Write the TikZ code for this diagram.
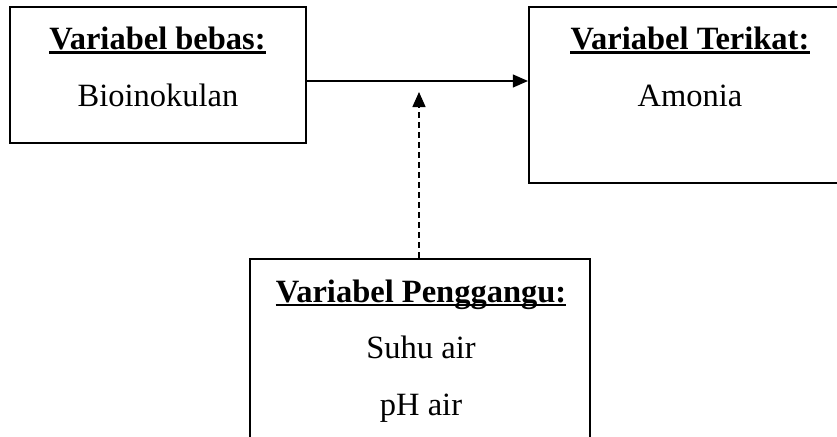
\documentclass[tikz,border=0pt]{standalone}
\usepackage{fontspec}
\setmainfont{Liberation Serif}
\usetikzlibrary{arrows.meta}
\begin{document}
\begin{tikzpicture}[x=1pt,y=-1pt,
  box/.style={draw, line width=2.2pt, inner sep=0pt},
  lbl/.style={anchor=base, inner sep=0pt, font=\fontsize{32.5}{38}\selectfont},
  hdr/.style={lbl, font=\fontsize{32.5}{38}\selectfont\bfseries},
  uline/.style={line width=2.2pt},
  conn/.style={line width=1.1pt, -{Triangle[length=15pt,width=13pt]}},
  dconn/.style={line width=1.4pt, dash pattern=on 6pt off 4pt, -{Triangle[length=15pt,width=13pt]}}]
\useasboundingbox (0,0) rectangle (837,436);
\clip (0,0) rectangle (837,436);
\fill[white] (0,0) rectangle (837,436);
% boxes
\node[box, minimum width=296pt, minimum height=136pt] (left) at (158,75) {};
\node[box, minimum width=322pt, minimum height=176pt] (right) at (690,95) {};
\node[box, minimum width=340pt, minimum height=210pt] (bottom) at (420,364) {};
% texts
\node[hdr] (t1) at (157.5,50) {Variabel bebas:};
\draw[uline] ([yshift=-2.5pt]t1.base west) -- ([yshift=-2.5pt]t1.base east);
\node[lbl] (t2) at (158,106) {Bioinokulan};
\node[hdr] (t3) at (690,50) {Variabel Terikat:};
\draw[uline] ([yshift=-2.5pt]t3.base west) -- ([yshift=-2.5pt]t3.base east);
\node[lbl] (t4) at (690,106) {Amonia};
\node[hdr] (t5) at (421,302) {Variabel Penggangu:};
\draw[uline] ([yshift=-3pt]t5.base west) -- ([yshift=-3pt]t5.base east);
\node[lbl] (t6) at (421,358) {Suhu air};
\node[lbl] (t7) at (421,415) {pH air};
% connectors
\draw[conn] ([yshift=-6pt]left.east) -- ([yshift=14pt]right.west);
\coordinate (tip) at (419,92);
\draw[dconn] (bottom.north -| tip) -- (tip);
\end{tikzpicture}
\end{document}
